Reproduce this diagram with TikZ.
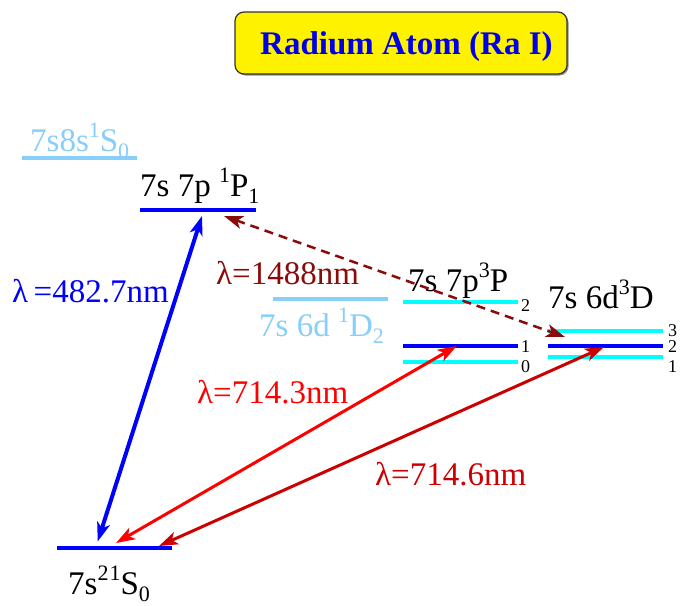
\documentclass[tikz,border=0pt]{standalone}
\usepackage{fontspec}
\setmainfont{Liberation Serif}
\usetikzlibrary{arrows.meta,shadows}
\definecolor{lsky}{HTML}{87CEFA}
\definecolor{dred}{HTML}{8B0A0A}
\definecolor{mred}{HTML}{CC0000}
\definecolor{tblue}{HTML}{0000E6}
\definecolor{cyn}{RGB}{0,255,255}
\definecolor{bl}{RGB}{0,0,255}
\definecolor{rd}{RGB}{255,0,0}
\newcommand\upi[1]{\raisebox{0.40em}{\fontsize{22}{22}\selectfont #1}}
\newcommand\dni[1]{\raisebox{-0.22em}{\fontsize{22}{22}\selectfont #1}}
\tikzset{
  lab/.style={anchor=base west, inner sep=0pt, font=\fontsize{33}{36}\selectfont},
  jlab/.style={anchor=base west, inner sep=0pt, font=\fontsize{18}{18}\selectfont},
  lev/.style={line width=4pt},
  arr/.style={{Stealth[length=19pt,width=13pt,inset=5pt]}-{Stealth[length=19pt,width=13pt,inset=5pt]}},
  titlebox/.style={draw=black!80, line width=1.2pt, fill=yellow, rounded corners=9pt,
     minimum width=332pt, minimum height=62pt, inner sep=0pt,
     drop shadow={shadow xshift=1.5pt, shadow yshift=-1.5pt, fill=black!45, opacity=1}}
}
\begin{document}
\begin{tikzpicture}[x=1pt,y=-1pt]
\useasboundingbox (0,0) rectangle (682,605);
% title
\node[titlebox] (tbox) at (401,43) {};
\node[anchor=base west, inner sep=0pt, font=\fontsize{33}{36}\selectfont\bfseries, text=tblue] (title) at (260,54) {Radium Atom (Ra I)};
% levels
\draw[lev, lsky] (22,158) -- (137,158);
\node[lab, text=lsky] (s8s) at (30,151) {7s8s\upi{1}S\dni{0}};
\draw[lev, bl] (140,210) -- (256,210);
\node[lab] (p1) at (140,196) {7s 7p \upi{1}P\dni{1}};
\draw[lev, lsky] (273,299) -- (388,299);
\node[lab, text=lsky] (d1) at (259,336) {7s 6d \upi{1}D\dni{2}};
\draw[lev, cyn] (403,302) -- (518,302);
\draw[lev, bl] (403,346) -- (518,346);
\draw[lev, cyn] (403,362) -- (518,362);
\node[lab] (p3) at (408,291) {7s 7p\upi{3}P};
\node[jlab] (j2) at (521,311) {2};
\node[jlab] (j1) at (521,352) {1};
\node[jlab] (j0) at (521,372) {0};
\draw[lev, cyn] (548,331) -- (663,331);
\draw[lev, bl] (548,346) -- (663,346);
\draw[lev, cyn] (548,357) -- (663,357);
\node[lab] (d3) at (548,308) {7s 6d\upi{3}D};
\node[jlab] (k3) at (668,336) {3};
\node[jlab] (k2) at (668,352) {2};
\node[jlab] (k1) at (668,372) {1};
\draw[lev, bl] (57,548) -- (172,548);
\node[lab] (g) at (68,594) {7s\upi{2}\kern1pt\upi{1}S\dni{0}};
% arrow end points
\coordinate (gb) at (97.7,541.5);
\coordinate (pb) at (202,216);
\coordinate (gr) at (116,543);
\coordinate (pr) at (456.7,346);
\coordinate (gd) at (159,546);
\coordinate (dd) at (604,347);
\coordinate (pd) at (224,216);
\coordinate (dx) at (565,337);
\draw[arr, bl, line width=4pt] (gb) -- (pb);
\draw[arr, rd, line width=3pt] (gr) -- (pr);
\draw[arr, mred, line width=3pt] (gd) -- (dd);
\draw[arr, dred, line width=2.5pt, dash pattern=on 9pt off 6pt] (pd) -- (dx);
% wavelength labels
\node[lab, text=bl] (lb) at (12,302) {λ\,=482.7nm};
\node[lab, text=dred] (ld) at (216,284) {λ=1488nm};
\node[lab, text=rd] (lr) at (197,403) {λ=714.3nm};
\node[lab, text=mred] (lm) at (375,485) {λ=714.6nm};
\end{tikzpicture}
\end{document}
